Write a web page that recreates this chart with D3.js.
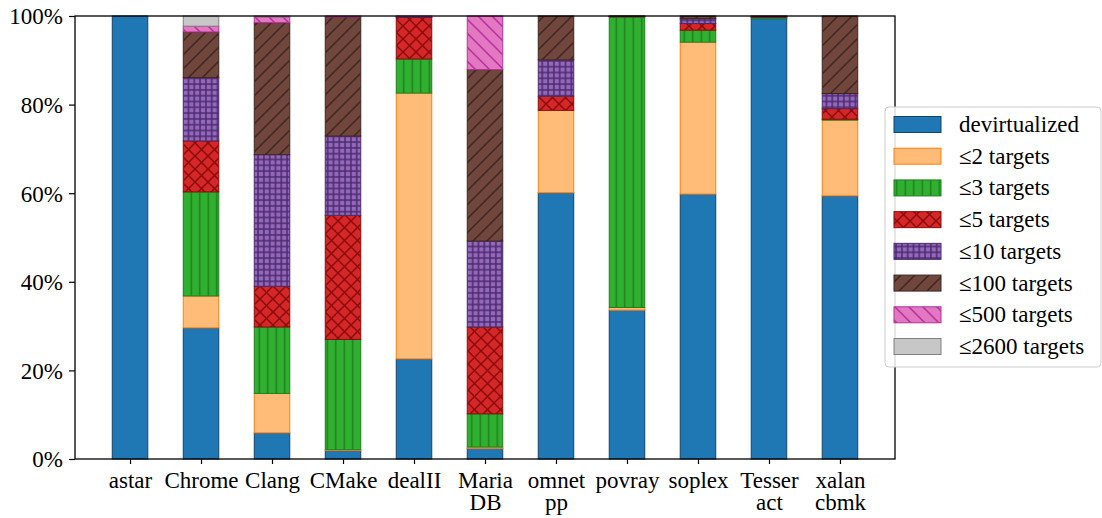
<!DOCTYPE html>
<html>
<head>
<meta charset="utf-8">
<script src="https://cdn.jsdelivr.net/npm/d3@7"></script>
<style>
  html, body { margin: 0; padding: 0; background: #fff; }
  svg { display: block; }
  svg text { font-family: "Liberation Serif", "Times New Roman", "DejaVu Serif", serif !important; fill: #000; }
</style>
</head>
<body>
<svg id="chart" width="1102" height="518"></svg>
<script>
// ---------- data ----------
const categories = ["astar", "Chrome", "Clang", "CMake", "dealII", "MariaDB", "omnetpp", "povray", "soplex", "Tesseract", "xalancbmk"];
const tickLabels = [["astar"], ["Chrome"], ["Clang"], ["CMake"], ["dealII"], ["Maria", "DB"], ["omnet", "pp"], ["povray"], ["soplex"], ["Tesser", "act"], ["xalan", "cbmk"]];
const seriesNames = ["devirtualized", "\u22642 targets", "\u22643 targets", "\u22645 targets", "\u226410 targets", "\u2264100 targets", "\u2264500 targets", "\u22642600 targets"];

const devirtualized = [100, 29.6, 5.9, 1.9, 22.6, 2.4, 60.1, 33.6, 59.8, 99.4, 59.4];
const le2    = [0, 7.2, 8.9, 0.2, 60.0, 0.3, 18.6, 0.6, 34.3, 0.0, 17.1];
const le3    = [0, 23.5, 15.0, 24.9, 7.7, 7.5, 0.0, 65.6, 2.7, 0.3, 0.2];
const le5    = [0, 11.5, 9.2, 28.0, 9.4, 19.6, 3.2, 0.1, 1.5, 0.1, 2.4];
const le10   = [0, 14.3, 29.7, 17.9, 0.1, 19.4, 8.2, 0.05, 1.1, 0.1, 3.4];
const le100  = [0, 10.3, 29.8, 26.9, 0.1, 38.7, 9.9, 0.05, 0.6, 0.1, 17.5];
const le500  = [0, 1.3, 1.3, 0.2, 0.1, 12.1, 0, 0, 0, 0, 0];
const le2600 = [0, 2.3, 0.2, 0, 0, 0, 0, 0, 0, 0, 0];
const seriesValues = [devirtualized, le2, le3, le5, le10, le100, le500, le2600];
const yTicks = [0, 20, 40, 60, 80, 100];

// ---------- styles ----------
const faceColors = ["#1f77b4", "#ffbb78", "#30b030", "#d62728", "#9467bd", "#71463c", "#e377c2", "#c7c7c7"];
const edgeColors = ["#15426a", "#ff7f0e", "#1f7f1f", "#8b0b0b", "#4a2b6a", "#3d2620", "#b5309a", "#808080"];
const hatches = [null, null, "|", "x", "+", "/", "\\", null];

const M = { left: 75, right: 895, top: 16, bottom: 459 };
const FONT = "'Liberation Serif', 'Times New Roman', 'DejaVu Serif', serif";

const svg = d3.select("#chart");
const defs = svg.append("defs");

function makePattern(i) {
  const h = hatches[i];
  if (!h) return faceColors[i];
  const id = "hatch" + i;
  let s;
  if (h === "|") s = 8.5;
  else if (h === "x") s = 13;
  else if (h === "+") s = 5.8;
  else s = 14;
  const p = defs.append("pattern").attr("id", id).attr("patternUnits", "userSpaceOnUse")
    .attr("width", s).attr("height", s);
  p.append("rect").attr("width", s).attr("height", s).attr("fill", faceColors[i]);
  const sw = 1.5, c = edgeColors[i];
  let d;
  if (h === "|") d = `M${s / 2},0 L${s / 2},${s}`;
  else if (h === "+") d = `M${s / 2},0 L${s / 2},${s} M0,${s / 2} L${s},${s / 2}`;
  else if (h === "x") d = `M0,0 L${s},${s} M${s},0 L0,${s}`;
  else if (h === "/") d = `M0,${s} L${s},0 M${-s / 2},${s / 2} L${s / 2},${-s / 2} M${s / 2},${s * 1.5} L${s * 1.5},${s / 2}`;
  else d = `M0,0 L${s},${s} M${-s / 2},${s / 2} L${s / 2},${s * 1.5} M${s / 2},${-s / 2} L${s * 1.5},${s / 2}`;
  p.append("path").attr("d", d).attr("stroke", c).attr("stroke-width", sw).attr("fill", "none");
  return `url(#${id})`;
}
const fills = seriesNames.map((_, i) => makePattern(i));

// ---------- scales ----------
const barW = 0.5;
const pad = (categories.length - 1 + barW) * 0.05;
const x = d3.scaleLinear()
  .domain([-barW / 2 - pad, categories.length - 1 + barW / 2 + pad])
  .range([M.left, M.right]);
const y = d3.scaleLinear().domain([0, 100]).range([M.bottom, M.top]);

// ---------- stacked bars ----------
const rows = categories.map((c, ci) => {
  const r = { idx: ci };
  seriesNames.forEach((s, si) => { r[s] = seriesValues[si][ci]; });
  return r;
});
const stack = d3.stack().keys(seriesNames)(rows);

const gBars = svg.append("g");
stack.forEach((layer, si) => {
  gBars.append("g").selectAll("rect")
    .data(layer.filter(d => d[1] - d[0] > 0))
    .join("rect")
    .attr("x", d => x(d.data.idx - barW / 2))
    .attr("width", d => x(barW) - x(0))
    .attr("y", d => y(d[1]))
    .attr("height", d => y(d[0]) - y(d[1]))
    .attr("fill", fills[si])
    .attr("stroke", edgeColors[si])
    .attr("stroke-width", 1);
});

// ---------- axes ----------
const fs = 23;
const yAxis = svg.append("g").attr("transform", `translate(${M.left},0)`)
  .call(d3.axisLeft(y).tickValues(yTicks).tickFormat(d => d + "%").tickSize(6).tickSizeOuter(0).tickPadding(6));
yAxis.attr("font-family", FONT).attr("font-size", fs);
yAxis.select(".domain").remove();
yAxis.selectAll(".tick line").attr("stroke", "#000").attr("stroke-width", 1.2);
yAxis.selectAll(".tick text").attr("dy", "0.34em");

const xAxis = svg.append("g").attr("transform", `translate(0,${M.bottom})`)
  .call(d3.axisBottom(x).tickValues(d3.range(categories.length)).tickSize(5).tickSizeOuter(0).tickFormat(""));
xAxis.attr("font-family", FONT).attr("font-size", fs);
xAxis.select(".domain").remove();
xAxis.selectAll(".tick line").attr("stroke", "#000").attr("stroke-width", 1.2);
xAxis.selectAll(".tick").each(function (d) {
  const t = d3.select(this).append("text")
    .attr("text-anchor", "middle");
  tickLabels[d].forEach((ln, k) => {
    t.append("tspan").attr("x", 0).attr("y", 29 + k * 22).text(ln);
  });
});

// frame
svg.append("rect")
  .attr("x", M.left).attr("y", M.top)
  .attr("width", M.right - M.left).attr("height", M.bottom - M.top)
  .attr("fill", "none").attr("stroke", "#000").attr("stroke-width", 1.3);

// ---------- legend ----------
const lg = svg.append("g").attr("font-family", FONT).attr("font-size", fs);
lg.append("rect")
  .attr("x", 885).attr("y", 107).attr("width", 216).attr("height", 260)
  .attr("rx", 4).attr("fill", "#fff").attr("fill-opacity", 0.85)
  .attr("stroke", "#cccccc").attr("stroke-width", 1);
const rowY = d3.scaleLinear().domain([0, seriesNames.length - 1]).range([124.5, 346.5]);
seriesNames.forEach((s, i) => {
  const cy = rowY(i);
  lg.append("rect")
    .attr("x", 894).attr("y", cy - 8).attr("width", 47).attr("height", 16)
    .attr("fill", fills[i]).attr("stroke", edgeColors[i]).attr("stroke-width", 1);
  lg.append("text").attr("x", 959).attr("y", cy + 7.5).text(s);
});
</script>
</body>
</html>
